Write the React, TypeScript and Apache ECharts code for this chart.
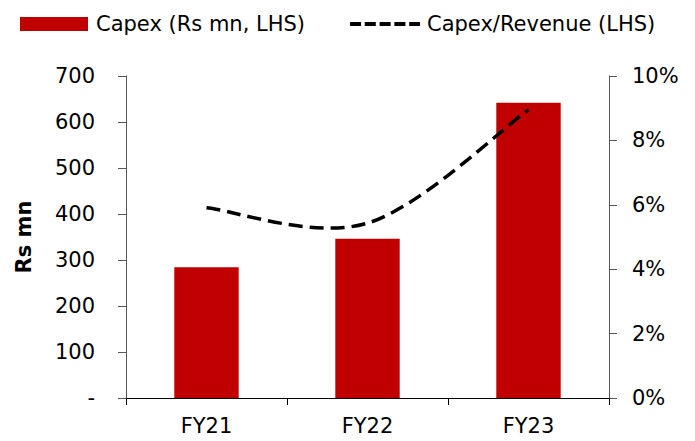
import React, { useEffect, useRef } from "react";
import * as echarts from "echarts";

const categories = ["FY21", "FY22", "FY23"];
const capex = [284, 346, 642];
const capexToRevenue = [5.91, 5.43, 8.95];

const seriesBarName = "Capex (Rs mn, LHS)";
const seriesLineName = "Capex/Revenue (LHS)";

const FONT = "'DejaVu Sans', sans-serif";
const RED = "#C00000";

export default function App() {
  const ref = useRef<HTMLDivElement>(null);
  useEffect(() => {
    if (!ref.current) return;
    const chart = echarts.init(ref.current, null, { renderer: "svg" });

    const renderLine = (params: any, api: any) => {
      if (params.dataIndex !== 0) return null;
      const pts = capexToRevenue.map((v, i) => api.coord([i, v]));
      const n = pts.length;
      let d = `M ${pts[0][0]} ${pts[0][1]}`;
      for (let i = 0; i < n - 1; i++) {
        const p0 = pts[i - 1] || pts[i];
        const p1 = pts[i];
        const p2 = pts[i + 1];
        const p3 = pts[i + 2] || pts[i + 1];
        const c1 = [p1[0] + (p2[0] - p0[0]) / 6, p1[1] + (p2[1] - p0[1]) / 6];
        const c2 = [p2[0] - (p3[0] - p1[0]) / 6, p2[1] - (p3[1] - p1[1]) / 6];
        d += ` C ${c1[0]} ${c1[1]} ${c2[0]} ${c2[1]} ${p2[0]} ${p2[1]}`;
      }
      return {
        type: "path",
        shape: { pathData: d },
        style: { fill: "none", stroke: "#000", lineWidth: 3.5, lineDash: [14, 7] },
      };
    };

    chart.setOption({
      animation: false,
      textStyle: { fontFamily: FONT },
      graphic: [
        { type: "rect", shape: { x: 20, y: 17, width: 68, height: 14 }, style: { fill: RED } },
        {
          type: "text",
          x: 96,
          y: 24,
          style: { text: seriesBarName, font: `21px ${FONT}`, fill: "#000", verticalAlign: "middle" },
        },
        {
          type: "line",
          shape: { x1: 350, y1: 24, x2: 420, y2: 24 },
          style: { stroke: "#000", lineWidth: 4, lineDash: [11, 3.8] },
        },
        {
          type: "text",
          x: 427,
          y: 24,
          style: { text: seriesLineName, font: `21px ${FONT}`, fill: "#000", verticalAlign: "middle" },
        },
      ],
      grid: { left: 126, right: 86, top: 76, bottom: 43 },
      xAxis: {
        type: "category",
        data: categories,
        axisLine: { lineStyle: { color: "#000", width: 1 } },
        axisTick: { show: true, length: 7, lineStyle: { color: "#000" } },
        axisLabel: { fontSize: 21, color: "#000", margin: 17, fontFamily: FONT },
      },
      yAxis: [
        {
          type: "value",
          min: 0,
          max: 700,
          interval: 100,
          name: "Rs mn",
          nameLocation: "middle",
          nameGap: 92,
          nameRotate: 90,
          nameTextStyle: { fontSize: 21, fontWeight: "bold", color: "#000", fontFamily: FONT },
          splitLine: { show: false },
          axisLine: { show: true, lineStyle: { color: "#595959" } },
          axisTick: { show: true, length: 8, lineStyle: { color: "#595959" } },
          axisLabel: {
            fontSize: 21,
            color: "#000",
            margin: 31,
            fontFamily: FONT,
            formatter: (v: number) => (v === 0 ? "-" : String(v)),
          },
        },
        {
          type: "value",
          min: 0,
          max: 10,
          interval: 2,
          position: "right",
          splitLine: { show: false },
          axisLine: { show: true, lineStyle: { color: "#595959" } },
          axisTick: { show: true, length: 8, lineStyle: { color: "#595959" } },
          axisLabel: {
            fontSize: 21,
            color: "#000",
            margin: 23,
            fontFamily: FONT,
            formatter: (v: number) => v + "%",
          },
        },
      ],
      series: [
        {
          name: seriesBarName,
          type: "bar",
          data: capex,
          barWidth: "40%",
          itemStyle: { color: RED },
          yAxisIndex: 0,
        },
        {
          name: seriesLineName,
          type: "custom",
          coordinateSystem: "cartesian2d",
          xAxisIndex: 0,
          yAxisIndex: 1,
          data: capexToRevenue.map((v, i) => [i, v]),
          encode: { x: 0, y: 1 },
          renderItem: renderLine,
          z: 5,
        },
      ],
    });
    return () => chart.dispose();
  }, []);
  return <div ref={ref} style={{ width: 695, height: 441, margin: -8 }} />;
}
